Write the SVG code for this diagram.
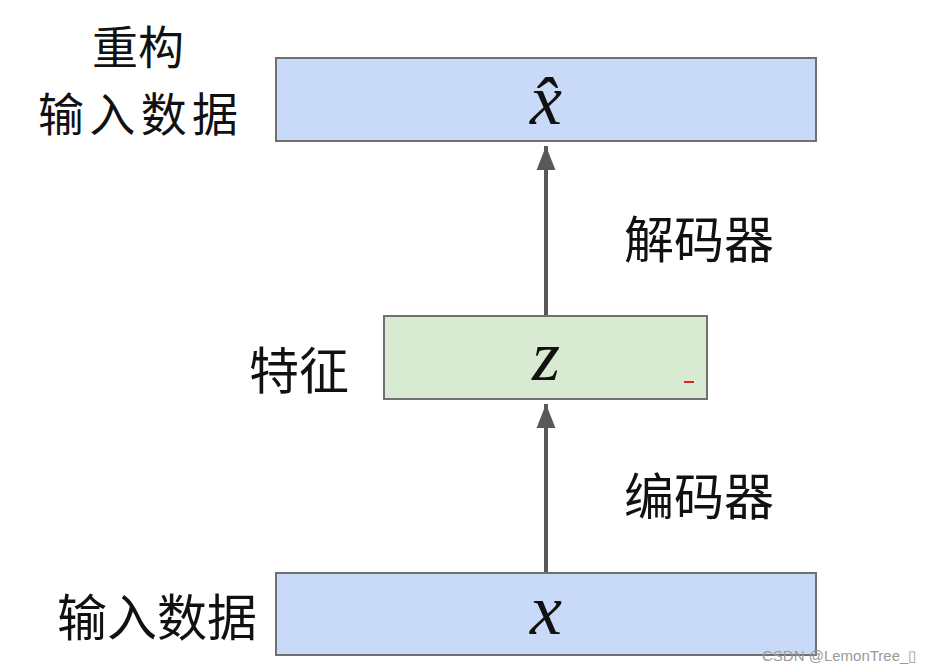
<svg xmlns="http://www.w3.org/2000/svg" width="936" height="672" viewBox="0 0 936 672">
<style>
.box{stroke:#707070;stroke-width:2}
.blue{fill:#c9daf8}
.green{fill:#d9ead3}
.cn{font-family:"Noto Sans CJK SC",sans-serif;font-size:50px;fill:#111}
.cs{font-size:46px}
.m{font-family:"Liberation Serif","DejaVu Serif",serif;font-style:italic;font-size:72px;fill:#111;text-anchor:middle}
.conn{stroke:#595959;stroke-width:4;fill:none}
.wm{font-family:"Liberation Sans",sans-serif;font-size:15px;fill:#9a9a9a}
</style>
<defs>
<marker id="ah" markerUnits="userSpaceOnUse" markerWidth="24" markerHeight="30" refX="28" refY="11" orient="auto" viewBox="0 0 28 22">
<path d="M0,0 L28,11 L0,22 Z" fill="#595959"/>
</marker>
</defs>
<rect width="936" height="672" fill="#ffffff"/>
<g id="connectors">
<line class="conn" x1="546" y1="316" x2="546" y2="146" marker-end="url(#ah)"/>
<line class="conn" x1="546" y1="573" x2="546" y2="404" marker-end="url(#ah)"/>
</g>
<g id="recon">
<rect class="box blue" x="276" y="58" width="540" height="83"/>
<text class="m" x="546" y="124">x̂</text>
<text class="cn cs" x="138" y="64" text-anchor="middle">重构</text>
<text class="cn cs" x="138" y="131" text-anchor="middle" textLength="200" lengthAdjust="spacing">输入数据</text>
</g>
<g id="feature">
<rect class="box green" x="384" y="316" width="323" height="83"/>
<text class="m" x="546" y="380">z</text>
<line x1="684" y1="382" x2="694" y2="382" stroke="#e02020" stroke-width="2"/>
<text class="cn" x="299" y="389" text-anchor="middle">特征</text>
</g>
<g id="input">
<rect class="box blue" x="276" y="573" width="540" height="82"/>
<text class="m" x="546" y="634">x</text>
<text class="cn" x="157" y="636" text-anchor="middle">输入数据</text>
</g>
<g id="labels">
<text class="cn" x="699" y="258" text-anchor="middle">解码器</text>
<text class="cn" x="699" y="515" text-anchor="middle">编码器</text>
</g>
<text class="wm" x="762" y="661">CSDN @LemonTree_▯</text>
</svg>
